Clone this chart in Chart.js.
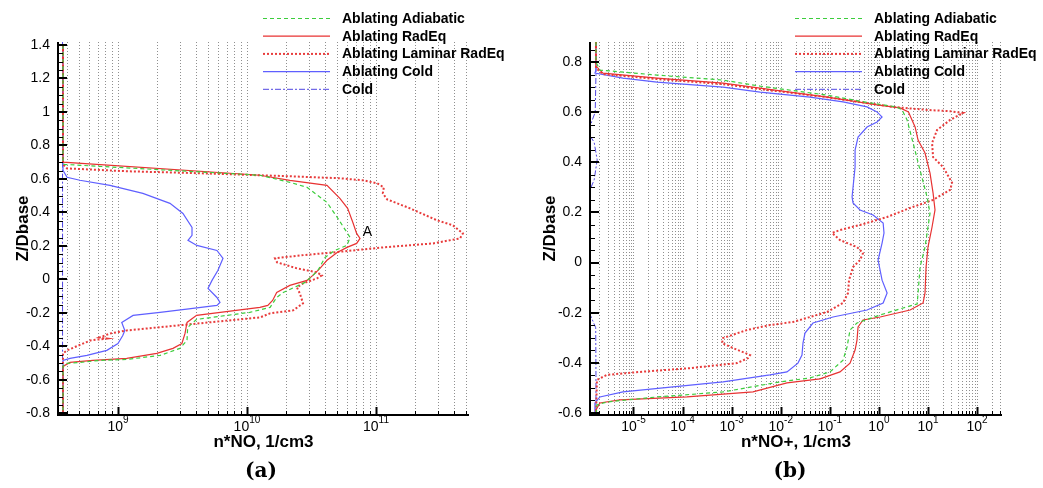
<!DOCTYPE html>
<html>
<head>
<meta charset="utf-8">
<title>n*NO / n*NO+ profiles</title>
<script src="https://cdn.jsdelivr.net/npm/chart.js@4.4.1/dist/chart.umd.min.js"></script>
<style>
  body { margin: 0; background: #fff; }
  #wrap { position: relative; width: 1043px; height: 488px; }
  canvas { position: absolute; top: 0; }
  #chartA { left: 0; }
  #chartB { left: 521px; }
</style>
</head>
<body>
<div id="wrap">
  <canvas id="chartA" width="521" height="488"></canvas>
  <canvas id="chartB" width="522" height="488"></canvas>
</div>
<script>
// ===============================
// DATA
// ===============================
const seriesNames = ["Ablating Adiabatic", "Ablating RadEq", "Ablating Laminar RadEq", "Ablating Cold", "Cold"];

// ---- panel (a): n*NO, 1/cm3 vs Z/Dbase ----
const aAdiabaticZ = [1.40, 0.70, 0.687, 0.622, 0.580, 0.550, 0.460, 0.371, 0.251, 0.203, 0.173, 0.131, 0.054, 0.024, -0.018, -0.078, -0.108, -0.167, -0.197, -0.239, -0.287, -0.365, -0.412, -0.454, -0.478, -0.484, -0.496, -0.502, -0.52, -0.81];
const aAdiabaticN = [3.75e8, 3.75e8, 3.82e8, 1.26e10, 2.15e10, 2.92e10, 4.17e10, 5.0e10, 6.3e10, 5.96e10, 4.79e10, 4.03e10, 3.55e10, 3.24e10, 2.82e10, 1.91e10, 1.70e10, 1.51e10, 1.05e10, 4.07e9, 3.47e9, 3.43e9, 3.02e9, 2.12e9, 1.17e9, 7.2e8, 5.1e8, 3.9e8, 3.75e8, 3.75e8];

const aRadEqZ = [1.40, 0.70, 0.622, 0.592, 0.562, 0.484, 0.424, 0.341, 0.275, 0.245, 0.215, 0.191, 0.161, 0.114, 0.066, 0.024, -0.006, -0.036, -0.078, -0.126, -0.155, -0.167, -0.215, -0.257, -0.323, -0.383, -0.412, -0.442, -0.472, -0.484, -0.496, -0.52, -0.81];
const aRadEqN = [3.75e8, 3.75e8, 1.26e10, 2.15e10, 4.17e10, 5.25e10, 6.03e10, 6.61e10, 7.08e10, 7.52e10, 7.08e10, 5.96e10, 5.0e10, 4.17e10, 3.68e10, 3.24e10, 2.92e10, 2.15e10, 1.70e10, 1.58e10, 1.45e10, 1.26e10, 4.07e9, 3.43e9, 3.31e9, 3.13e9, 2.67e9, 2.0e9, 1.17e9, 6.4e8, 4.25e8, 3.75e8, 3.75e8];

const aLaminarZ = [1.40, 0.687, 0.663, 0.646, 0.634, 0.616, 0.604, 0.592, 0.574, 0.550, 0.514, 0.478, 0.424, 0.353, 0.323, 0.275, 0.245, 0.215, 0.191, 0.161, 0.143, 0.126, 0.102, 0.066, 0.042, 0.024, 0.006, -0.024, -0.048, -0.084, -0.143, -0.185, -0.203, -0.227, -0.305, -0.323, -0.347, -0.353, -0.365, -0.424, -0.442, -0.81];
const aLaminarN = [3.75e8, 3.75e8, 4.03e8, 1.17e9, 4.32e9, 2.15e10, 5.25e10, 7.94e10, 1.02e11, 1.15e11, 1.13e11, 1.22e11, 1.84e11, 2.97e11, 3.95e11, 4.72e11, 4.48e11, 2.77e11, 1.13e11, 4.65e10, 2.57e10, 1.65e10, 1.71e10, 2.44e10, 3.49e10, 3.8e10, 3.49e10, 2.72e10, 2.44e10, 2.57e10, 2.72e10, 2.28e10, 1.51e10, 1.26e10, 1.17e9, 8.7e8, 7.2e8, 8.2e8, 6.1e8, 4.03e8, 3.75e8, 3.75e8];

const aAblColdZ = [1.40, 0.652, 0.610, 0.592, 0.562, 0.514, 0.454, 0.394, 0.311, 0.263, 0.233, 0.203, 0.173, 0.126, 0.054, -0.006, -0.054, -0.108, -0.137, -0.155, -0.173, -0.197, -0.215, -0.257, -0.305, -0.335, -0.383, -0.424, -0.454, -0.472, -0.484, -0.81];
const aAblColdN = [3.75e8, 3.75e8, 4.03e8, 5.07e8, 8.67e8, 1.56e9, 2.53e9, 3.19e9, 3.75e9, 3.75e9, 3.49e9, 4.09e9, 5.85e9, 6.52e9, 5.96e9, 5.36e9, 4.99e9, 5.85e9, 6.18e9, 5.85e9, 3.81e9, 2.12e9, 1.31e9, 1.07e9, 1.13e9, 1.09e9, 1.0e9, 8.2e8, 5.75e8, 4.25e8, 3.75e8, 3.75e8];

const aColdZ = [1.42, 0.70, -0.81];
const aColdN = [3.72e8, 3.72e8, 3.72e8];

const aXMin = 3.43e8, aXMax = 5.26e11, aYMin = -0.81, aYMax = 1.418;
const aYTicks = [-0.8, -0.6, -0.4, -0.2, 0, 0.2, 0.4, 0.6, 0.8, 1, 1.2, 1.4];
const aYLabels = ["-0.8", "-0.6", "-0.4", "-0.2", "0", "0.2", "0.4", "0.6", "0.8", "1", "1.2", "1.4"];
const aXDecades = [9, 10, 11];
const aNoteX = [8.6e10], aNoteY = [0.28], aNoteText = ["A"];

// ---- panel (b): n*NO+, 1/cm3 vs Z/Dbase ----
const bAdiabaticZ = [0.88, 0.80, 0.768, 0.748, 0.728, 0.704, 0.668, 0.637, 0.621, 0.609, 0.569, 0.477, 0.369, 0.262, 0.197, 0.142, 0.062, -0.018, -0.121, -0.165, -0.181, -0.209, -0.241, -0.269, -0.337, -0.389, -0.436, -0.460, -0.476, -0.516, -0.536, -0.556, -0.568, -0.61];
const bAdiabaticN = [1.72e-6, 1.72e-6, 2.07e-6, 3.01e-5, 6.67e-4, 3.79e-3, 8.79e-2, 0.661, 2.3, 2.97, 3.75, 4.97, 6.89, 9.57, 11.0, 10.0, 8.7, 6.89, 6.28, 6.0, 3.11, 1.06, 0.357, 0.258, 0.224, 0.186, 0.101, 0.0395, 9.68e-3, 6.67e-4, 3.01e-5, 2.88e-6, 1.80e-6, 1.72e-6];

const bRadEqZ = [0.88, 0.784, 0.756, 0.736, 0.716, 0.696, 0.660, 0.629, 0.617, 0.601, 0.541, 0.489, 0.437, 0.357, 0.277, 0.210, 0.142, 0.062, -0.018, -0.121, -0.161, -0.189, -0.217, -0.229, -0.257, -0.309, -0.349, -0.401, -0.436, -0.464, -0.480, -0.516, -0.536, -0.548, -0.560, -0.588, -0.61];
const bRadEqN = [1.72e-6, 1.72e-6, 2.39e-6, 3.01e-5, 6.67e-4, 3.79e-3, 8.79e-2, 0.916, 2.70, 4.0, 5.46, 6.28, 8.7, 11.0, 12.7, 13.9, 12.1, 10.0, 9.14, 8.7, 7.94, 4.32, 1.06, 0.475, 0.376, 0.358, 0.327, 0.258, 0.161, 0.0631, 0.0134, 2.72e-3, 1.23e-4, 5.31e-6, 2.07e-6, 1.72e-6, 1.72e-6];

const bLaminarZ = [0.88, 0.776, 0.752, 0.732, 0.712, 0.692, 0.660, 0.621, 0.609, 0.604, 0.597, 0.569, 0.529, 0.477, 0.421, 0.381, 0.318, 0.290, 0.250, 0.218, 0.182, 0.150, 0.130, 0.118, 0.090, 0.062, 0.038, 0.010, -0.018, -0.070, -0.121, -0.161, -0.197, -0.217, -0.237, -0.249, -0.269, -0.301, -0.321, -0.341, -0.369, -0.381, -0.401, -0.421, -0.436, -0.448, -0.468, -0.61];
const bLaminarN = [1.72e-6, 1.72e-6, 2.39e-6, 3.01e-5, 6.67e-4, 3.79e-3, 8.79e-2, 1.95, 9.6, 28.2, 51.9, 28.2, 15.3, 12.1, 12.7, 20.3, 31.0, 28.2, 12.7, 4.32, 1.47, 0.413, 0.161, 0.111, 0.161, 0.358, 0.475, 0.413, 0.297, 0.246, 0.235, 0.186, 0.0879, 0.0395, 0.0178, 6.05e-3, 2.06e-3, 6.67e-4, 6.37e-4, 1.07e-3, 2.37e-3, 2.15e-3, 1.29e-3, 1.42e-4, 1.36e-5, 2.88e-6, 1.80e-6, 1.72e-6];

const bAblColdZ = [0.88, 0.768, 0.756, 0.736, 0.720, 0.700, 0.680, 0.660, 0.641, 0.621, 0.601, 0.581, 0.561, 0.541, 0.501, 0.449, 0.381, 0.262, 0.238, 0.210, 0.190, 0.158, 0.118, 0.078, 0.010, -0.070, -0.121, -0.161, -0.189, -0.217, -0.241, -0.281, -0.321, -0.369, -0.401, -0.436, -0.448, -0.476, -0.496, -0.516, -0.536, -0.560, -0.61];
const bAblColdN = [1.72e-6, 1.72e-6, 1.64e-6, 6.11e-6, 3.01e-5, 6.67e-4, 3.79e-3, 0.0395, 0.186, 0.573, 0.916, 1.16, 0.916, 0.573, 0.376, 0.327, 0.327, 0.284, 0.297, 0.413, 0.760, 1.22, 1.27, 1.16, 0.962, 1.16, 1.47, 1.22, 0.573, 0.116, 0.0454, 0.0312, 0.0284, 0.0271, 0.0224, 0.0134, 6.03e-3, 6.67e-4, 6.38e-5, 6.11e-6, 2.07e-6, 1.64e-6, 1.64e-6];

const bColdZ = [0.88, 0.75, 0.60, 0.52, 0.48, 0.41, 0.33, 0.26, 0.10, -0.10, -0.20, -0.26, -0.45, -0.61];
const bColdN = [1.72e-6, 1.72e-6, 1.66e-6, 1.17e-6, 1.58e-6, 1.82e-6, 1.58e-6, 1.12e-6, 1.0e-6, 1.0e-6, 1.26e-6, 1.70e-6, 1.72e-6, 1.72e-6];

const bXMin = 1.3e-6, bXMax = 3.22e2, bYMin = -0.608, bYMax = 0.88;
const bYTicks = [-0.6, -0.4, -0.2, 0, 0.2, 0.4, 0.6, 0.8];
const bYLabels = ["-0.6", "-0.4", "-0.2", "0", "0.2", "0.4", "0.6", "0.8"];
const bXDecades = [-5, -4, -3, -2, -1, 0, 1, 2];

// ===============================
// STYLES
// ===============================
const seriesStyles = [
  { color: "rgb(60,205,60)", width: 1.2, dash: [4, 3] },
  { color: "rgb(232,50,50)", width: 1.2, dash: [] },
  { color: "rgb(232,60,60)", width: 2, dash: [2, 2] },
  { color: "rgb(95,95,255)", width: 1.2, dash: [] },
  { color: "rgb(80,70,225)", width: 1, dash: [6, 2, 2, 2] },
];
const FONT = "'Liberation Sans', Arial, sans-serif";

function zipPoints(ns, zs) {
  return ns.map((n, i) => ({ x: n, y: zs[i] }));
}

function makeDatasets(pairs) {
  return pairs.map(([ns, zs], i) => ({
    label: seriesNames[i],
    data: zipPoints(ns, zs),
    showLine: true,
    borderColor: seriesStyles[i].color,
    borderWidth: seriesStyles[i].width,
    borderDash: seriesStyles[i].dash,
    pointRadius: 0,
    fill: false,
    tension: 0,
  }));
}

function gridValues(min, max) {
  const out = [];
  const e0 = Math.floor(Math.log10(min)), e1 = Math.ceil(Math.log10(max));
  for (let e = e0; e <= e1; e++) {
    for (let m = 1; m <= 9; m++) {
      const v = m * Math.pow(10, e);
      if (v > min * 1.001 && v < max * 1.001) out.push({ v, major: m === 1 });
    }
  }
  return out;
}

// ===============================
// FRAME PLUGIN (axes, ticks, labels, legend)
// ===============================
function framePlugin(cfg) {
  return {
    id: "frame",
    beforeDatasetsDraw(chart) {
      const { ctx, chartArea: a, scales: { x } } = chart;
      ctx.save();
      ctx.strokeStyle = "#8f8f8f";
      ctx.lineWidth = 1;
      ctx.setLineDash([1, 2]);
      gridValues(x.min, x.max).forEach((g) => {
        const px = Math.round(x.getPixelForValue(g.v)) + 0.5;
        ctx.beginPath();
        ctx.moveTo(px, a.top);
        ctx.lineTo(px, a.bottom);
        ctx.stroke();
      });
      ctx.restore();
    },
    afterDraw(chart) {
      const { ctx, chartArea: a, scales: { x, y } } = chart;
      ctx.save();
      ctx.setLineDash([]);
      ctx.strokeStyle = "#000";
      ctx.fillStyle = "#000";

      // x ticks
      ctx.lineWidth = 1;
      gridValues(x.min, x.max).forEach((g) => {
        const px = Math.round(x.getPixelForValue(g.v)) + 0.5;
        ctx.lineWidth = g.major ? 2 : 1;
        ctx.beginPath();
        ctx.moveTo(px, a.bottom);
        ctx.lineTo(px, a.bottom - (g.major ? 8 : 4));
        ctx.stroke();
      });

      // y ticks: minor every 0.05, major at labelled values
      ctx.lineWidth = 1;
      for (let k = Math.ceil(y.min / 0.05); k * 0.05 <= y.max + 1e-9; k++) {
        const py = Math.round(y.getPixelForValue(k * 0.05)) + 0.5;
        ctx.beginPath();
        ctx.moveTo(a.left, py);
        ctx.lineTo(a.left + 5, py);
        ctx.stroke();
      }
      ctx.lineWidth = 2;
      cfg.yTicks.forEach((v) => {
        const py = Math.round(y.getPixelForValue(v));
        ctx.beginPath();
        ctx.moveTo(a.left, py);
        ctx.lineTo(a.left + 9, py);
        ctx.stroke();
      });

      // axis lines
      ctx.lineWidth = 2;
      ctx.beginPath();
      ctx.moveTo(a.left, a.top);
      ctx.lineTo(a.left, a.bottom);
      ctx.lineTo(a.right, a.bottom);
      ctx.stroke();

      // y tick labels
      ctx.font = `14px ${FONT}`;
      ctx.textAlign = "right";
      ctx.textBaseline = "middle";
      cfg.yTicks.forEach((v, i) => {
        ctx.fillText(cfg.yLabels[i], cfg.yLabelRight, y.getPixelForValue(v));
      });

      // x tick labels 10^n
      ctx.textAlign = "left";
      ctx.textBaseline = "alphabetic";
      cfg.xDecades.forEach((e) => {
        const px = x.getPixelForValue(Math.pow(10, e));
        ctx.font = `14px ${FONT}`;
        const wb = ctx.measureText("10").width;
        ctx.font = `10px ${FONT}`;
        const we = ctx.measureText(String(e)).width;
        const x0 = px - (wb + we) / 2;
        ctx.font = `14px ${FONT}`;
        ctx.fillText("10", x0, a.bottom + 16);
        ctx.font = `10px ${FONT}`;
        ctx.fillText(String(e), x0 + wb, a.bottom + 8);
      });

      // axis titles
      ctx.font = `bold 17px ${FONT}`;
      ctx.textAlign = "center";
      ctx.textBaseline = "middle";
      ctx.fillText(cfg.xTitle, (a.left + a.right) / 2, a.bottom + 27);
      ctx.save();
      ctx.translate(cfg.yTitleX, (a.top + a.bottom) / 2);
      ctx.rotate(-Math.PI / 2);
      ctx.fillText("Z/Dbase", 0, 0);
      ctx.restore();

      // panel label
      ctx.font = `bold 20px 'DejaVu Serif', serif`;
      ctx.fillText(cfg.panel, cfg.panelX, a.bottom + 57);

      // annotation
      if (cfg.noteX) {
        ctx.font = `14px ${FONT}`;
        cfg.noteX.forEach((nx, i) => {
          ctx.fillText(cfg.noteText[i], x.getPixelForValue(nx), y.getPixelForValue(cfg.noteY[i]));
        });
      }

      // legend
      ctx.textAlign = "left";
      ctx.font = `bold 14px ${FONT}`;
      chart.data.datasets.forEach((ds, i) => {
        const ly = cfg.legendTop + i * 17.7;
        ctx.save();
        ctx.strokeStyle = ds.borderColor;
        ctx.lineWidth = ds.borderWidth;
        ctx.setLineDash(ds.borderDash);
        ctx.beginPath();
        ctx.moveTo(cfg.legendX, ly + 0.5);
        ctx.lineTo(cfg.legendX + 67, ly + 0.5);
        ctx.stroke();
        ctx.restore();
        ctx.fillText(ds.label, cfg.legendX + 79, ly + 1);
      });
      ctx.restore();
    },
  };
}

function buildChart(id, datasets, lim, pad, cfg) {
  return new Chart(document.getElementById(id), {
    type: "scatter",
    data: { datasets },
    options: {
      responsive: false,
      animation: false,
      layout: { padding: pad },
      plugins: { legend: { display: false }, tooltip: { enabled: false } },
      scales: {
        x: { type: "logarithmic", display: false, bounds: "data", min: lim.xMin, max: lim.xMax },
        y: { type: "linear", display: false, bounds: "data", min: lim.yMin, max: lim.yMax },
      },
    },
    plugins: [framePlugin(cfg)],
  });
}

// ===============================
// INIT
// ===============================
buildChart(
  "chartA",
  makeDatasets([
    [aAdiabaticN, aAdiabaticZ],
    [aRadEqN, aRadEqZ],
    [aLaminarN, aLaminarZ],
    [aAblColdN, aAblColdZ],
    [aColdN, aColdZ],
  ]),
  { xMin: aXMin, xMax: aXMax, yMin: aYMin, yMax: aYMax },
  { left: 58, right: 52, top: 42, bottom: 73 },
  {
    yTicks: aYTicks, yLabels: aYLabels, yLabelRight: 50, yTitleX: 23,
    xDecades: aXDecades, xTitle: "n*NO, 1/cm3", panel: "(a)", panelX: 261,
    legendX: 263, legendTop: 18,
    noteX: aNoteX, noteY: aNoteY, noteText: aNoteText,
  }
);

buildChart(
  "chartB",
  makeDatasets([
    [bAdiabaticN, bAdiabaticZ],
    [bRadEqN, bRadEqZ],
    [bLaminarN, bLaminarZ],
    [bAblColdN, bAblColdZ],
    [bColdN, bColdZ],
  ]),
  { xMin: bXMin, xMax: bXMax, yMin: bYMin, yMax: bYMax },
  { left: 69, right: 41, top: 42, bottom: 73 },
  {
    yTicks: bYTicks, yLabels: bYLabels, yLabelRight: 61, yTitleX: 29,
    xDecades: bXDecades, xTitle: "n*NO+, 1/cm3", panel: "(b)", panelX: 269,
    legendX: 274, legendTop: 18,
  }
);
</script>
</body>
</html>
